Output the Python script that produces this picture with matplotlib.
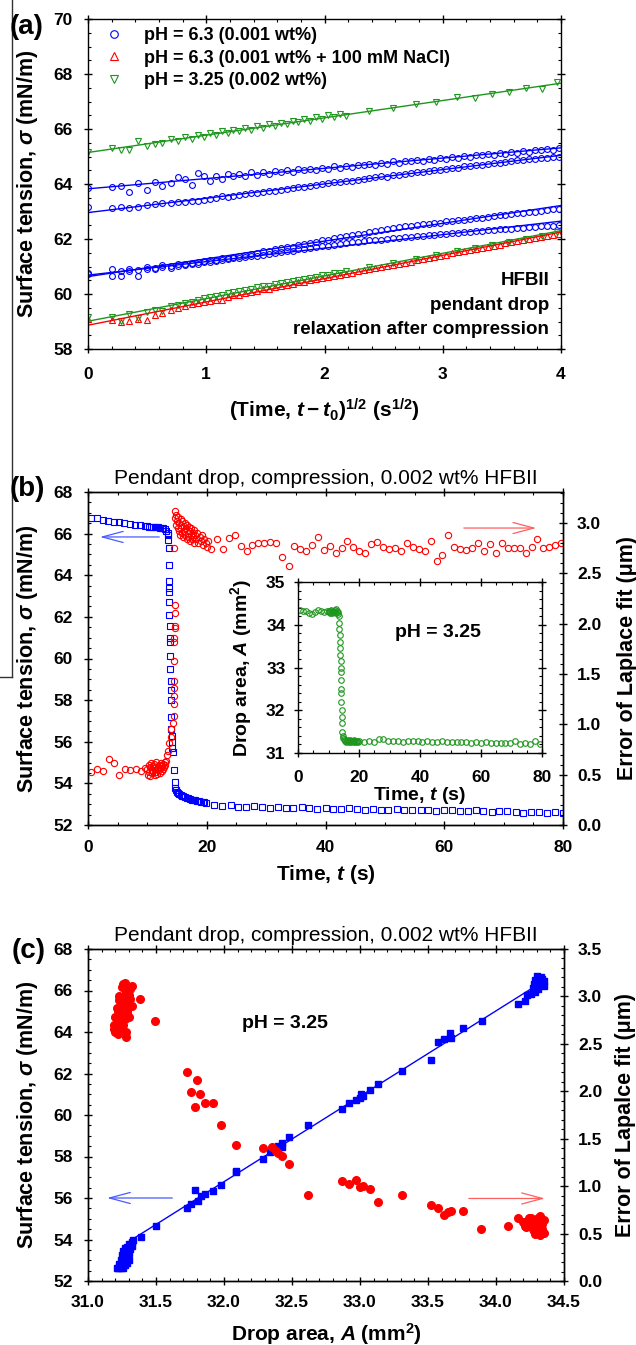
import numpy as np
import matplotlib.pyplot as plt
from matplotlib.ticker import MultipleLocator, FormatStrFormatter
from matplotlib.lines import Line2D

plt.rcParams['font.family'] = ['Liberation Sans', 'DejaVu Sans']
plt.rcParams['font.weight'] = 'bold'
plt.rcParams['axes.labelweight'] = 'bold'
plt.rcParams['mathtext.fontset'] = 'custom'
plt.rcParams['mathtext.rm'] = 'Liberation Sans:bold'
plt.rcParams['mathtext.it'] = 'Liberation Sans:italic:bold'
plt.rcParams['mathtext.bf'] = 'Liberation Sans:bold'
plt.rcParams['axes.linewidth'] = 1.0

BLUE = '#0000ff'
RED = '#ff0000'
GREEN = '#1e961e'

# ---------------- panel (a): sigma vs sqrt(t - t0) ----------------
xa = [0.00, 0.20, 0.28, 0.35, 0.42, 0.50, 0.57, 0.63, 0.70, 0.76, 0.82, 0.88, 0.93, 0.98,
      1.03, 1.08, 1.13, 1.18, 1.23, 1.28, 1.33, 1.38, 1.43, 1.48, 1.53, 1.58, 1.63, 1.68,
      1.73, 1.78, 1.83, 1.88, 1.93, 1.98, 2.03, 2.08, 2.13, 2.18, 2.23, 2.28, 2.33, 2.38,
      2.43, 2.48, 2.53, 2.58, 2.63, 2.68, 2.73, 2.78, 2.83, 2.88, 2.93, 2.98, 3.03, 3.08,
      3.13, 3.18, 3.23, 3.28, 3.33, 3.38, 3.43, 3.48, 3.53, 3.58, 3.63, 3.68, 3.73, 3.78,
      3.83, 3.88, 3.93, 3.98]
blue1 = [63.85, 63.90, 63.92, 63.70, 64.05, 63.78, 64.06, 63.92, 64.02, 64.26,
         64.20, 63.98, 64.40, 64.30, 64.12, 64.30, 64.20, 64.38, 64.28, 64.36,
         64.30, 64.42, 64.34, 64.45, 64.38, 64.46, 64.42, 64.50, 64.45, 64.54,
         64.50, 64.56, 64.52, 64.60, 64.56, 64.64, 64.60, 64.66, 64.63, 64.70,
         64.68, 64.74, 64.70, 64.78, 64.74, 64.82, 64.78, 64.85, 64.82, 64.88,
         64.85, 64.92, 64.88, 64.95, 64.92, 65.00, 64.96, 65.03, 65.00, 65.06,
         65.04, 65.10, 65.06, 65.14, 65.10, 65.18, 65.14, 65.21, 65.18, 65.24,
         65.22, 65.28, 65.24, 65.32]
blue2 = [63.15, 63.12, 63.15, 63.13, 63.18, 63.22, 63.28, 63.30, 63.32, 63.33,
         63.36, 63.38, 63.40, 63.42, 63.46, 63.50, 63.55, 63.52, 63.58, 63.60,
         63.62, 63.66, 63.68, 63.70, 63.74, 63.76, 63.78, 63.82, 63.85, 63.88,
         63.90, 63.93, 63.98, 64.00, 64.02, 64.06, 64.08, 64.12, 64.10, 64.16,
         64.20, 64.22, 64.24, 64.28, 64.26, 64.32, 64.34, 64.38, 64.40, 64.42,
         64.45, 64.48, 64.50, 64.52, 64.54, 64.58, 64.60, 64.64, 64.66, 64.68,
         64.70, 64.74, 64.76, 64.78, 64.80, 64.84, 64.86, 64.88, 64.90, 64.92,
         64.94, 64.96, 64.98, 65.00]
blue3 = [60.78, 60.92, 60.85, 60.90, 60.88, 60.98, 60.95, 61.05, 61.02, 61.08,
         61.10, 61.12, 61.15, 61.20, 61.22, 61.25, 61.30, 61.32, 61.35, 61.38,
         61.42, 61.46, 61.50, 61.55, 61.57, 61.62, 61.66, 61.70, 61.72, 61.78,
         61.82, 61.85, 61.90, 61.95, 61.98, 62.02, 62.06, 62.10, 62.14, 62.18,
         62.20, 62.25, 62.30, 62.33, 62.36, 62.40, 62.42, 62.46, 62.48, 62.50,
         62.54, 62.56, 62.58, 62.60, 62.64, 62.66, 62.68, 62.70, 62.74, 62.75,
         62.78, 62.80, 62.84, 62.86, 62.88, 62.90, 62.93, 62.95, 62.98, 63.00,
         63.03, 63.05, 63.08, 63.10]
blue4 = [60.72, 60.65, 60.66, 60.82, 60.65, 60.92, 60.90, 60.98, 60.95, 61.02,
         61.05, 61.08, 61.10, 61.15, 61.18, 61.20, 61.24, 61.26, 61.30, 61.32,
         61.34, 61.38, 61.40, 61.43, 61.46, 61.48, 61.52, 61.55, 61.58, 61.62,
         61.64, 61.68, 61.70, 61.74, 61.76, 61.80, 61.82, 61.85, 61.88, 61.90,
         61.92, 61.95, 61.96, 61.98, 62.00, 62.02, 62.04, 62.06, 62.08, 62.10,
         62.12, 62.14, 62.16, 62.18, 62.20, 62.22, 62.23, 62.25, 62.27, 62.28,
         62.30, 62.32, 62.33, 62.35, 62.37, 62.38, 62.40, 62.41, 62.43, 62.44,
         62.46, 62.47, 62.49, 62.50]
red_a = [59.10, 59.05, 58.98, 59.02, 59.08, 59.05, 59.25, 59.30, 59.42, 59.50,
         59.55, 59.62, 59.68, 59.70, 59.75, 59.78, 59.80, 59.88, 59.95, 59.98,
         60.05, 60.08, 60.12, 60.18, 60.20, 60.24, 60.30, 60.33, 60.38, 60.42,
         60.45, 60.50, 60.55, 60.58, 60.62, 60.66, 60.70, 60.74, 60.78, 60.82,
         60.86, 60.90, 60.94, 60.98, 61.02, 61.06, 61.10, 61.14, 61.18, 61.22,
         61.26, 61.30, 61.34, 61.40, 61.42, 61.48, 61.52, 61.55, 61.60, 61.64,
         61.68, 61.72, 61.75, 61.80, 61.84, 61.88, 61.92, 61.95, 62.00, 62.04,
         62.08, 62.12, 62.15, 62.20]
xg = [0.00, 0.20, 0.28, 0.35, 0.42, 0.50, 0.57, 0.63, 0.70, 0.76, 0.82, 0.88, 0.93, 0.98,
      1.03, 1.08, 1.13, 1.18, 1.23, 1.28, 1.33, 1.38, 1.43, 1.48, 1.53, 1.58, 1.63, 1.68,
      1.73, 1.78, 1.83, 1.88, 1.93, 1.98, 2.03, 2.08, 2.13, 2.18,
      2.38, 2.58, 2.77, 2.94, 3.12, 3.27, 3.42, 3.56, 3.70, 3.84, 3.97]
green_hi = [65.15, 65.30, 65.25, 65.22, 65.55, 65.38, 65.45, 65.48, 65.62, 65.55,
            65.72, 65.65, 65.80, 65.72, 65.85, 65.80, 65.92, 65.85, 65.98, 65.92,
            66.05, 65.98, 66.10, 66.05, 66.18, 66.10, 66.22, 66.18, 66.30, 66.25,
            66.36, 66.30, 66.45, 66.38, 66.50, 66.42, 66.55, 66.48,
            66.65, 66.75, 66.90, 66.97, 67.18, 67.14, 67.27, 67.36, 67.50, 67.44, 67.70]
green_lo = [59.18, 59.15, 59.02, 59.28, 59.12, 59.35, 59.42, 59.40, 59.55, 59.60,
            59.68, 59.72, 59.80, 59.85, 59.90, 59.92, 59.98, 60.02, 60.08, 60.12,
            60.16, 60.20, 60.24, 60.28, 60.30, 60.36, 60.40, 60.44, 60.48, 60.52,
            60.55, 60.60, 60.63, 60.68, 60.70, 60.75, 60.78, 60.82,
            60.98, 61.12, 61.28, 61.42, 61.55, 61.66, 61.78, 61.90, 62.00, 62.12, 62.25]
legend_a = ['pH = 6.3 (0.001 wt%)', 'pH = 6.3 (0.001 wt% + 100 mM NaCl)', 'pH = 3.25 (0.002 wt%)']

# ---------------- panel (b): sigma and fit error vs time ----------------
t_b_blue = [0.5, 1.5, 2.5, 3.4, 4.3, 5.2, 6.1, 7.0, 7.9, 8.8, 9.6,
            10.0, 10.3, 10.6, 10.9, 11.2, 11.5, 11.8, 12.1, 12.4, 12.7, 13.0, 13.2, 13.4,
            13.45, 13.55, 13.6, 13.6, 13.6, 13.65, 13.65, 13.7, 13.7, 13.75, 13.8, 13.8, 13.85,
            13.85, 13.9, 13.9, 13.95, 14.0, 14.05, 14.1, 14.15, 14.2, 14.25, 14.5, 14.6, 14.65,
            14.8, 15.0, 15.2, 15.4, 15.6, 15.8, 16.0, 16.3, 16.6, 16.9, 17.2, 17.5, 17.8, 18.1,
            18.4, 18.7, 19.0, 19.3, 19.6, 19.9,
            21.3, 22.6, 24.0, 25.3, 26.6, 28.0, 29.3, 30.6, 32.0, 33.3, 34.6, 36.0, 37.3, 38.6,
            40.0, 41.3, 42.6, 44.0, 45.3, 46.6, 48.0, 49.3, 50.6, 52.0, 53.3, 54.6, 56.0, 57.3,
            58.6, 60.0, 61.3, 62.6, 64.0, 65.3, 66.6, 68.0, 69.3, 70.6, 72.0, 73.3, 74.6, 76.0,
            77.3, 78.6, 80.0]
sig_b = [66.75, 66.75, 66.65, 66.62, 66.58, 66.55, 66.52, 66.48, 66.42, 66.40, 66.38,
         66.35, 66.33, 66.33, 66.32, 66.30, 66.32, 66.30, 66.28, 66.28, 66.25, 66.22, 66.15, 66.05,
         65.95, 65.70, 65.30, 64.50, 63.70, 63.40, 63.20, 62.70, 62.10, 61.55, 61.00, 60.80, 60.10,
         59.50, 58.90, 58.50, 58.00, 57.20, 56.60, 56.30, 56.00, 55.70, 55.50, 54.65, 54.05, 53.80,
         53.70, 53.60, 53.55, 53.50, 53.45, 53.40, 53.38, 53.35, 53.30, 53.28, 53.25, 53.22, 53.20, 53.18,
         53.15, 53.15, 53.12, 53.10, 53.10, 53.05,
         52.95, 52.90, 52.95, 52.88, 52.85, 52.90, 52.85, 52.82, 52.85, 52.82, 52.80, 52.85, 52.82, 52.78,
         52.80, 52.78, 52.75, 52.80, 52.78, 52.72, 52.75, 52.72, 52.72, 52.75, 52.70, 52.72, 52.70, 52.70,
         52.68, 52.72, 52.70, 52.68, 52.65, 52.70, 52.68, 52.62, 52.65, 52.66, 52.62, 52.60, 52.64, 52.62,
         52.60, 52.62, 52.58]
t_b_red = [0.5, 1.5, 2.5, 3.6, 4.4, 5.3, 6.2, 7.1, 8.0, 9.0, 9.6,
           10.0, 10.1, 10.2, 10.3, 10.4, 10.5, 10.6, 10.7, 10.8, 10.9, 11.0, 11.1, 11.2, 11.3,
           11.4, 11.5, 11.6, 11.7, 11.8, 11.9, 12.0, 12.1, 12.2, 12.3, 12.4, 12.5, 12.6, 12.7,
           12.8, 12.9, 13.0,
           13.1, 13.3, 13.5, 13.7, 13.9, 14.0,
           14.35, 14.4, 14.4, 14.45, 14.45, 14.5, 14.5, 14.55, 14.55, 14.6, 14.6, 14.6, 14.65, 14.45,
           14.6, 14.7, 14.8, 14.9, 15.0, 15.1, 15.2, 15.3, 15.4, 15.5, 15.6, 15.7, 15.8, 15.9,
           16.0, 16.1, 16.2, 16.3, 16.4, 16.5, 16.6, 16.7, 16.8, 16.9, 17.0, 17.1, 17.2, 17.3,
           17.4, 17.5, 17.6, 17.7, 17.8, 17.9, 18.0, 18.2, 18.4, 18.6, 18.8, 19.0, 19.2, 19.4,
           19.6, 19.8, 20.0, 20.2,
           20.7, 21.7, 22.7, 23.7, 24.7, 25.7, 26.7, 27.7, 28.7, 29.7, 30.7, 31.7, 32.7, 33.9,
           34.7, 35.7, 36.7, 37.7, 38.7, 39.7, 40.7, 41.7, 42.7, 43.7, 44.7, 45.7, 46.7, 47.7,
           48.7, 49.7, 50.7, 51.7, 52.7, 53.7, 54.7, 55.7, 56.7, 57.7, 58.8, 59.7, 60.7, 61.7,
           62.7, 63.7, 64.7, 65.7, 66.7, 67.7, 68.7, 69.7, 70.7, 71.7, 72.7, 73.7, 74.7, 75.7,
           76.7, 77.7, 78.7, 79.7]
err_b = [0.53, 0.56, 0.54, 0.66, 0.62, 0.50, 0.56, 0.55, 0.56, 0.54, 0.57,
         0.56, 0.50, 0.60, 0.53, 0.58, 0.49, 0.62, 0.55, 0.52, 0.59, 0.54, 0.61, 0.50, 0.57,
         0.53, 0.63, 0.56, 0.51, 0.58, 0.55, 0.60, 0.52, 0.57, 0.62, 0.54, 0.59, 0.56, 0.61,
         0.58, 0.63, 0.60,
         0.64, 0.70, 0.74, 0.81, 0.87, 0.95,
         1.01, 1.08, 1.20, 1.28, 1.36, 1.43, 1.63, 1.82, 1.86, 1.96, 1.98, 2.11, 2.19, 2.75,
         3.12, 3.05, 3.08, 2.98, 3.02, 2.95, 3.06, 2.92, 3.00, 2.88, 3.04, 2.95, 2.90, 3.02,
         2.86, 2.97, 2.92, 3.00, 2.88, 2.95, 2.84, 2.98, 2.90, 2.86, 2.96, 2.82, 2.92, 2.88,
         2.95, 2.84, 2.90, 2.86, 2.93, 2.80, 2.88, 2.84, 2.90, 2.80, 2.86, 2.82, 2.88, 2.78,
         2.84, 2.80, 2.76, 2.82,
         2.74, 2.84, 2.74, 2.85, 2.88, 2.77, 2.72, 2.78, 2.80, 2.80, 2.81, 2.80, 2.66, 2.57,
         2.77, 2.74, 2.72, 2.78, 2.86, 2.73, 2.77, 2.70, 2.75, 2.82, 2.76, 2.72, 2.70, 2.79,
         2.81, 2.76, 2.74, 2.75, 2.72, 2.80, 2.76, 2.74, 2.72, 2.82, 2.62, 2.68, 2.88, 2.76,
         2.74, 2.73, 2.75, 2.80, 2.72, 2.79, 2.70, 2.80, 2.75, 2.75, 2.75, 2.70, 2.76, 2.84,
         2.75, 2.76, 2.78, 2.80]

# inset: drop area vs time
t_ins = [0.5, 1.5, 2.5, 3.5, 4.5, 5.5, 6.5, 7.5, 8.5, 9.5,
         10.0, 10.2, 10.4, 10.6, 10.8, 11.0, 11.2, 11.4, 11.6, 11.8, 12.0, 12.2, 12.4, 12.6,
         12.8, 13.0, 13.2,
         13.4, 13.5, 13.6, 13.7, 13.8, 13.85, 13.9, 13.95, 14.0, 14.05, 14.1, 14.15, 14.2,
         14.25, 14.3, 14.35, 14.4, 14.5, 14.6, 14.8,
         15.0, 15.25, 15.5, 15.75, 16.0, 16.25, 16.5, 16.75, 17.0, 17.25, 17.5, 17.75, 18.0,
         18.25, 18.5, 18.75, 19.0, 19.25, 19.5, 19.75, 20.0,
         21.6, 23.2, 24.8, 26.4, 28.0, 29.6, 31.2, 32.8, 34.4, 36.0, 37.6, 39.2, 40.8, 42.4,
         44.0, 45.6, 47.2, 48.8, 50.4, 52.0, 53.6, 55.2, 56.8, 58.4, 60.0, 61.6, 63.2, 64.8,
         66.4, 68.0, 69.6, 71.2, 72.8, 74.4, 76.0, 77.6, 79.2]
area_ins = [34.35, 34.32, 34.33, 34.28, 34.25, 34.30, 34.34, 34.32, 34.30, 34.33,
            34.30, 34.33, 34.28, 34.32, 34.35, 34.30, 34.27, 34.33, 34.31, 34.29, 34.34, 34.30,
            34.36, 34.28, 34.32, 34.30, 34.26,
            34.20, 34.05, 33.90, 33.75, 33.60, 33.45, 33.30, 33.15, 33.00, 32.90, 32.70, 32.50,
            32.40, 32.20, 32.00, 31.85, 31.70, 31.50, 31.40, 31.35,
            31.32, 31.28, 31.30, 31.26, 31.29, 31.31, 31.27, 31.25, 31.30, 31.28, 31.26, 31.29,
            31.27, 31.30, 31.25, 31.28, 31.26, 31.29, 31.27, 31.25, 31.28,
            31.26, 31.27, 31.25, 31.32, 31.33, 31.27, 31.28, 31.27, 31.26, 31.27, 31.28, 31.27,
            31.26, 31.27, 31.26, 31.25, 31.27, 31.26, 31.25, 31.26, 31.25, 31.26, 31.24, 31.25,
            31.24, 31.25, 31.24, 31.23, 31.24, 31.23, 31.24, 31.29, 31.22, 31.23, 31.22, 31.28, 31.20]

# ---------------- panel (c): sigma and fit error vs drop area ----------------
area_c_blue = [31.21, 31.22, 31.24, 31.26, 31.23, 31.25, 31.27, 31.24, 31.26, 31.28,
               31.25, 31.27, 31.29, 31.26, 31.28, 31.30, 31.27, 31.29, 31.31, 31.30,
               31.32, 31.32, 31.33, 31.28, 31.30, 31.29,
               31.39, 31.50, 31.73, 31.76, 31.79, 31.81, 31.83, 31.86, 31.92, 31.98,
               32.09, 32.09, 32.29, 32.34, 32.37, 32.40, 32.43, 32.43, 32.48, 32.62,
               32.87, 32.92, 32.97, 33.00, 33.01, 33.02, 33.07, 33.13, 33.31, 33.52,
               33.57, 33.62, 33.66, 33.67, 33.76, 33.90, 34.16, 34.21, 34.23, 34.26, 34.29,
               34.27, 34.28, 34.29, 34.30, 34.31, 34.32, 34.30, 34.33, 34.34, 34.35, 34.35,
               34.33, 34.31, 34.29]
sig_c = [52.62, 52.65, 52.62, 52.62, 52.80, 52.90, 52.75, 53.00, 53.10, 52.95,
         53.25, 53.30, 53.15, 53.45, 53.50, 53.35, 53.60, 53.65, 53.55, 53.80,
         53.70, 53.90, 54.00, 53.20, 53.00, 52.85,
         54.10, 54.65, 55.50, 55.70, 56.40, 55.85, 56.10, 56.20, 56.35, 56.65,
         57.25, 57.30, 57.90, 58.20, 58.30, 58.50, 58.45, 58.65, 58.95, 59.50,
         60.30, 60.60, 60.70, 60.80, 61.00, 60.90, 61.20, 61.50, 62.10, 62.65,
         63.50, 63.65, 63.93, 63.72, 64.18, 64.55, 65.33, 65.50, 65.80, 65.85, 65.95,
         66.10, 66.30, 66.50, 66.20, 66.60, 66.40, 66.70, 66.30, 66.55, 66.20, 66.45,
         66.65, 66.05, 66.15]
area_c_red = [31.19, 31.20, 31.21, 31.22, 31.23, 31.24, 31.25, 31.26, 31.27, 31.28,
              31.29, 31.30, 31.31, 31.32, 31.20, 31.21, 31.22, 31.23, 31.24, 31.25,
              31.26, 31.27, 31.28, 31.29, 31.30, 31.31, 31.19, 31.22, 31.24, 31.26,
              31.28, 31.30, 31.23, 31.25, 31.27, 31.29, 31.21, 31.26,
              31.26, 31.32, 31.38, 31.49, 31.28,
              31.73, 31.76, 31.79, 31.80, 31.82, 31.86, 31.92, 31.98, 32.09, 32.29,
              32.35, 32.38, 32.40, 32.43, 32.48, 32.62, 32.87, 32.92, 32.97, 33.00,
              33.02, 33.07, 33.13, 33.31, 33.52, 33.57, 33.62, 33.65, 33.67, 33.76,
              33.89, 34.09,
              34.16, 34.20, 34.22, 34.24, 34.25, 34.27, 34.28, 34.29, 34.30, 34.31,
              34.32, 34.33, 34.34, 34.35, 34.21, 34.23, 34.26, 34.28, 34.30, 34.32,
              34.34, 34.27, 34.29, 34.31, 34.33, 34.35]
err_c = [2.70, 2.78, 2.65, 2.85, 2.72, 2.92, 2.80, 2.98, 2.88, 3.05,
         2.95, 3.02, 3.08, 2.90, 2.62, 2.88, 2.75, 2.96, 2.82, 2.68,
         2.90, 2.76, 2.94, 2.84, 2.90, 2.97, 2.66, 2.60, 2.72, 2.84,
         2.62, 2.78, 3.00, 3.10, 3.14, 2.86, 2.74, 2.70,
         3.13, 3.11, 2.97, 2.74, 2.57,
         2.20, 1.99, 1.83, 2.12, 1.97, 1.88, 1.88, 1.64, 1.43, 1.40,
         1.41, 1.37, 1.35, 1.32, 1.23, 0.91, 1.05, 1.02, 1.07, 0.99,
         1.00, 0.97, 0.83, 0.91, 0.80, 0.77, 0.70, 0.73, 0.74, 0.74,
         0.55, 0.58,
         0.66, 0.62, 0.57, 0.66, 0.60, 0.55, 0.64, 0.50, 0.62, 0.57,
         0.68, 0.52, 0.60, 0.64, 0.58, 0.61, 0.66, 0.53, 0.58, 0.48,
         0.55, 0.62, 0.56, 0.66, 0.60, 0.51]

title_bc = 'Pendant drop, compression, 0.002 wt% HFBII'
ylab_sigma = r'Surface tension, $\sigma$ (mN/m)'


def style_ticks(ax, xmaj, xmin, ymaj, ymin, xpad, ypad, right=True, size=12.5):
    ax.xaxis.set_major_locator(MultipleLocator(xmaj))
    ax.xaxis.set_minor_locator(MultipleLocator(xmin))
    ax.yaxis.set_major_locator(MultipleLocator(ymaj))
    ax.yaxis.set_minor_locator(MultipleLocator(ymin))
    ax.tick_params(which='major', direction='inout', length=6, width=1,
                   top=True, right=right, labelsize=size)
    ax.tick_params(which='minor', direction='in', length=2.5, width=0.8,
                   top=True, right=right)
    ax.tick_params(axis='x', which='major', pad=xpad)
    ax.tick_params(axis='y', which='major', pad=ypad)


def style_right(ax2, ymaj, ymin):
    ax2.yaxis.set_major_locator(MultipleLocator(ymaj))
    ax2.yaxis.set_minor_locator(MultipleLocator(ymin))
    ax2.yaxis.set_major_formatter(FormatStrFormatter('%.1f'))
    ax2.tick_params(axis='y', which='major', direction='inout', length=6, width=1,
                    labelsize=12.5, pad=7)
    ax2.tick_params(axis='y', which='minor', direction='in', length=2.5, width=0.8)


fig = plt.figure(figsize=(6.36, 13.45), dpi=100)
W, H = 636.0, 1345.0


def box(l, r, t, b):
    return [l / W, 1 - b / H, (r - l) / W, (b - t) / H]


ARROW = '->,head_length=1.5,head_width=0.4'

# ---------------- (a) ----------------
ax = fig.add_axes(box(88, 561, 19, 349))
mk = dict(ls='none', mfc='none', mew=0.8, ms=4.2)
for ys in (blue1, blue2, blue3, blue4):
    ax.plot(xa, ys, marker='o', color=BLUE, **mk)
ax.plot(xa, red_a, marker='^', color=RED, **mk)
ax.plot(xg, green_hi, marker='v', color=GREEN, **mk)
ax.plot(xg, green_lo, marker='v', color=GREEN, **mk)
xfit = np.array([0.0, 4.0])
for xs, ys, c in ((xa, blue1, BLUE), (xa, blue2, BLUE), (xa, blue3, BLUE), (xa, blue4, BLUE),
                  (xa, red_a, RED), (xg, green_hi, GREEN), (xg, green_lo, GREEN)):
    p = np.polyfit(xs, ys, 1)
    ax.plot(xfit, np.polyval(p, xfit), color=c, lw=1.0)
h = [Line2D([], [], marker='o', color=BLUE, **mk),
     Line2D([], [], marker='^', color=RED, **mk),
     Line2D([], [], marker='v', color=GREEN, **mk)]
ax.legend(h, legend_a, loc='upper left', bbox_to_anchor=(0.035, 0.975), frameon=False,
          borderpad=0, borderaxespad=0, handlelength=1.0, handletextpad=1.2,
          labelspacing=0.3, fontsize=13, markerscale=1.3)
ax.set_xlim(0, 4)
ax.set_ylim(58, 70)
style_ticks(ax, 1, 0.2, 2, 0.5, 10, 8)
ax.set_xlabel(r'(Time, $t-t_0$)$^{1/2}$ (s$^{1/2}$)', fontsize=15)
ax.set_ylabel(ylab_sigma, fontsize=15.5)
ax.yaxis.set_label_coords(-0.102, 0.5)
ax.xaxis.set_label_coords(0.5, -0.145)
for yy, s in ((60.5, 'HFBII'), (59.6, 'pendant drop'), (58.7, 'relaxation after compression')):
    ax.text(3.9, yy, s, ha='right', va='center', fontsize=13.5, fontweight='bold')
fig.text(10 / W, 1 - 27 / H, '(a)', fontsize=20, fontweight='bold', va='center')

# ---------------- (b) ----------------
axb = fig.add_axes(box(88, 563, 492, 825))
axb.plot(t_b_blue, sig_b, ls='none', marker='s', mfc='none', mec=BLUE, mew=0.8, ms=4)
axb.set_xlim(0, 80)
axb.set_ylim(52, 68)
style_ticks(axb, 20, 5, 2, 0.5, 8, 8, right=False)
axb.set_xlabel(r'Time, $t$ (s)', fontsize=15)
axb.set_ylabel(ylab_sigma, fontsize=15.5)
axb.yaxis.set_label_coords(-0.101, 0.5)
axb.xaxis.set_label_coords(0.5, -0.113)
axb.set_title(title_bc, fontsize=15, fontweight='normal', pad=6)
axb.annotate('', xy=(2.0, 65.84), xytext=(12.0, 65.84),
             arrowprops=dict(arrowstyle=ARROW, color='#4a5cff', lw=0.9, shrinkA=0, shrinkB=0))
axb2 = axb.twinx()
axb2.plot(t_b_red, err_b, ls='none', marker='o', mfc='none', mec=RED, mew=0.8, ms=4.5)
axb2.set_ylim(0, 3.308)
style_right(axb2, 0.5, 0.1)
axb2.set_ylabel('Error of Laplace fit (μm)', fontsize=15.5)
axb2.yaxis.set_label_coords(1.114, 0.5)
axb2.annotate('', xy=(75.5, 2.95), xytext=(63.3, 2.95),
              arrowprops=dict(arrowstyle=ARROW, color='#ff6060', lw=0.9, shrinkA=0, shrinkB=0))
fig.text(10 / W, 1 - 489 / H, '(b)', fontsize=20, fontweight='bold', va='center')

# inset
axi = fig.add_axes(box(298, 542, 582, 753))
axi.plot(t_ins, area_ins, ls='none', marker='o', mfc='none', mec=GREEN, mew=0.8, ms=4)
axi.set_xlim(0, 80)
axi.set_ylim(31, 35)
style_ticks(axi, 20, 5, 1, 0.2, 9, 6)
axi.set_xlabel(r'Time, $t$ (s)', fontsize=14)
axi.set_ylabel(r'Drop area, $A$ (mm$^2$)', fontsize=14)
axi.xaxis.set_label_coords(0.5, -0.185)
axi.yaxis.set_label_coords(-0.18, 0.5)
axi.text(46, 33.83, 'pH = 3.25', ha='center', va='center', fontsize=14)

# ---------------- (c) ----------------
axc = fig.add_axes(box(88, 564, 949, 1281))
axc.plot(area_c_blue, sig_c, ls='none', marker='s', color=BLUE, ms=5)
sel = [i for i, a in enumerate(area_c_blue) if a >= 31.33]
pc = np.polyfit([area_c_blue[i] for i in sel], [sig_c[i] for i in sel], 1)
afit = np.array([31.33, 34.35])
axc.plot(afit, np.polyval(pc, afit), color=BLUE, lw=1.0)
axc.set_xlim(31.0, 34.5)
axc.set_ylim(52, 68)
style_ticks(axc, 0.5, 0.1, 2, 0.5, 7, 8, right=False)
axc.xaxis.set_major_formatter(FormatStrFormatter('%.1f'))
axc.set_xlabel(r'Drop area, $A$ (mm$^2$)', fontsize=15)
axc.set_ylabel(ylab_sigma, fontsize=15.5)
axc.yaxis.set_label_coords(-0.101, 0.5)
axc.xaxis.set_label_coords(0.5, -0.122)
axc.set_title(title_bc, fontsize=15, fontweight='normal', pad=6)
axc.text(32.45, 64.43, 'pH = 3.25', ha='center', va='center', fontsize=14)
axc.annotate('', xy=(31.14, 56.0), xytext=(31.62, 56.0),
             arrowprops=dict(arrowstyle=ARROW, color='#4a5cff', lw=0.9, shrinkA=0, shrinkB=0))
axc2 = axc.twinx()
axc2.plot(area_c_red, err_c, ls='none', marker='o', color=RED, ms=5.5)
axc2.set_ylim(0, 3.5)
style_right(axc2, 0.5, 0.1)
axc2.set_ylabel('Error of Lapalce fit (μm)', fontsize=15.5)
axc2.yaxis.set_label_coords(1.108, 0.5)
axc2.annotate('', xy=(34.36, 0.87), xytext=(33.80, 0.87),
              arrowprops=dict(arrowstyle=ARROW, color='#ff6060', lw=0.9, shrinkA=0, shrinkB=0))
fig.text(12 / W, 1 - 951 / H, '(c)', fontsize=20, fontweight='bold', va='center')

# scan border left over from the original figure
fig.add_artist(Line2D([11.5 / W, 11.5 / W], [1.0, 1 - 677 / H], color='#333333', lw=1))
fig.add_artist(Line2D([0, 11.5 / W], [1 - 677 / H, 1 - 677 / H], color='#333333', lw=1))

fig.savefig('out.png', dpi=100)
